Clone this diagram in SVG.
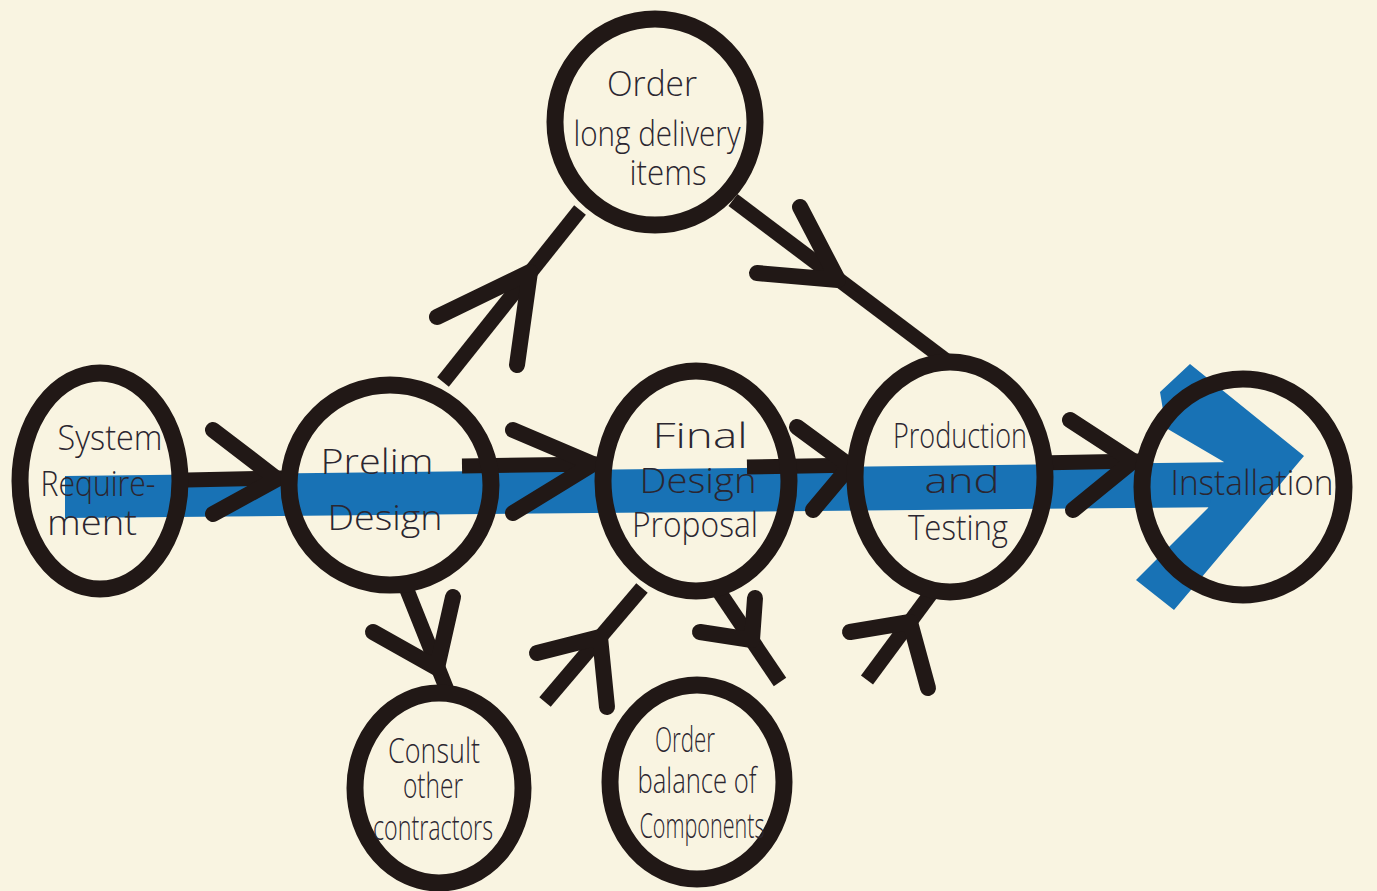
<svg xmlns="http://www.w3.org/2000/svg" width="1377" height="891" viewBox="0 0 1377 891">
<style>
.node{fill:none;stroke:#211816;stroke-width:17}
.ln{fill:none;stroke:#211816;stroke-width:15;stroke-linecap:butt}
.ah{fill:none;stroke:#211816;stroke-width:16;stroke-linecap:round;stroke-linejoin:round}
.t{font-family:"Open Sans","Liberation Sans",sans-serif;font-weight:300;font-size:34px;fill:#2b2630;text-anchor:middle}
.band{fill:#1872b5}
</style>
<rect x="0" y="0" width="1377" height="891" fill="#f9f4e1"/>
<g id="flow-band">
<polygon class="band" points="65,476 1240,462 1240,507 65,518"/>
<polygon class="band" points="1190,364 1304,456 1174,610 1136,580 1208,508 1224,462 1166,428 1160,392"/>
</g>
<g id="connectors">
<path class="ln" d="M187 480 L283 478"/>
<path class="ln" d="M462 466 L600 464"/>
<path class="ln" d="M747 467 L860 465"/>
<path class="ln" d="M1037 463 L1140 461"/>
<path class="ln" d="M443 382 L580 210"/>
<path class="ln" d="M733 200 L948 362"/>
<path class="ln" d="M407 590 L447 690"/>
<path class="ln" d="M545 702 L642 588"/>
<path class="ln" d="M720 593 L780 682"/>
<path class="ln" d="M867 680 L935 588"/>
<path class="ah" d="M213 430 L277 479 L213 514"/>
<path class="ah" d="M513 430 L593 464 L513 513"/>
<path class="ah" d="M797 427 L850 466 L813 510"/>
<path class="ah" d="M1070 420 L1133 461 L1073 510"/>
<path class="ah" d="M437 317 L530 272 L517 365"/>
<path class="ah" d="M800 207 L838 280 L757 273"/>
<path class="ah" d="M373 632 L437 668 L453 597"/>
<path class="ah" d="M537 653 L600 637 L607 707"/>
<path class="ah" d="M700 632 L752 640 L755 598"/>
<path class="ah" d="M850 632 L910 622 L928 688"/>
</g>
<g id="node-system-requirement">
<ellipse class="node" cx="100" cy="481" rx="80" ry="108"/>
<text class="t" x="110" y="450" textLength="105" lengthAdjust="spacingAndGlyphs">System</text>
<text class="t" x="98" y="496" textLength="115" lengthAdjust="spacingAndGlyphs">Require-</text>
<text class="t" x="92" y="535" textLength="90" lengthAdjust="spacingAndGlyphs">ment</text>
</g>
<g id="node-prelim-design">
<ellipse class="node" cx="390" cy="485" rx="101" ry="100"/>
<text class="t" x="377" y="474" textLength="113" lengthAdjust="spacingAndGlyphs">Prelim</text>
<text class="t" x="385" y="530" textLength="115" lengthAdjust="spacingAndGlyphs">Design</text>
</g>
<g id="node-order-long-delivery">
<ellipse class="node" cx="655" cy="122" rx="100" ry="103"/>
<text class="t" x="652" y="96" textLength="90" lengthAdjust="spacingAndGlyphs">Order</text>
<text class="t" x="657" y="146" textLength="167" lengthAdjust="spacingAndGlyphs">long delivery</text>
<text class="t" x="668" y="185" textLength="77" lengthAdjust="spacingAndGlyphs">items</text>
</g>
<g id="node-final-design-proposal">
<ellipse class="node" cx="696" cy="481" rx="93" ry="110"/>
<text class="t" x="700" y="448" textLength="95" lengthAdjust="spacingAndGlyphs">Final</text>
<text class="t" x="698" y="493" textLength="117" lengthAdjust="spacingAndGlyphs">Design</text>
<text class="t" x="695" y="537" textLength="126" lengthAdjust="spacingAndGlyphs">Proposal</text>
</g>
<g id="node-production-testing">
<ellipse class="node" cx="950" cy="477" rx="95" ry="115"/>
<text class="t" x="960" y="448" textLength="134" lengthAdjust="spacingAndGlyphs">Production</text>
<text class="t" x="962" y="493" textLength="75" lengthAdjust="spacingAndGlyphs">and</text>
<text class="t" x="958" y="540" textLength="100" lengthAdjust="spacingAndGlyphs">Testing</text>
</g>
<g id="node-installation">
<ellipse class="node" cx="1243" cy="487" rx="101" ry="108"/>
<text class="t" x="1252" y="495" textLength="163" lengthAdjust="spacingAndGlyphs">Installation</text>
</g>
<g id="node-consult-contractors">
<ellipse class="node" cx="439" cy="788" rx="84" ry="95"/>
<text class="t" x="434" y="763" textLength="92" lengthAdjust="spacingAndGlyphs">Consult</text>
<text class="t" x="433" y="798" textLength="60" lengthAdjust="spacingAndGlyphs">other</text>
<text class="t" x="433" y="840" textLength="120" lengthAdjust="spacingAndGlyphs">contractors</text>
</g>
<g id="node-order-balance">
<ellipse class="node" cx="697" cy="782" rx="87" ry="97"/>
<text class="t" x="685" y="752" textLength="60" lengthAdjust="spacingAndGlyphs">Order</text>
<text class="t" x="697" y="793" textLength="119" lengthAdjust="spacingAndGlyphs">balance of</text>
<text class="t" x="702" y="838" textLength="125" lengthAdjust="spacingAndGlyphs">Components</text>
</g>
</svg>
